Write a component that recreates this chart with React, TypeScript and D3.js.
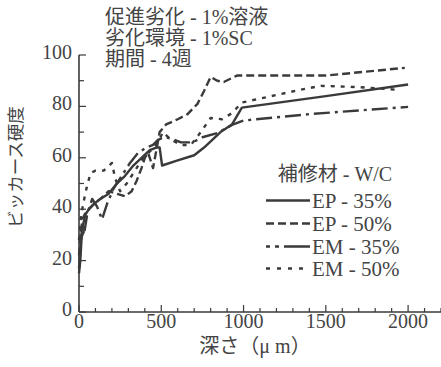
import React from "react";
import * as d3 from "d3";

const titleLines = ["促進劣化 - 1%溶液", "劣化環境 - 1%SC", "期間 - 4週"];
const yLabel = "ビッカース硬度";
const xLabel = "深さ（μ m）";
const legendTitle = "補修材 - W/C";

const xTicks = [0, 500, 1000, 1500, 2000];
const yTicks = [0, 20, 40, 60, 80, 100];

const seriesNames = ["EP - 35%", "EP - 50%", "EM - 35%", "EM - 50%"];

const ep35Depth = [0, 8, 15, 25, 40, 60, 90, 130, 180, 230, 280, 330, 380, 430, 470, 490, 505, 600, 700, 760, 810, 860, 930, 990, 1500, 2000];
const ep35Hard = [15, 20, 28, 34, 38, 40, 42, 44, 46, 50, 53, 57, 60, 63, 64, 64, 57, 59, 61, 64, 67, 70, 73, 79.5, 84, 88.5];

const ep50Depth = [0, 10, 20, 35, 60, 90, 130, 180, 230, 280, 320, 350, 380, 400, 420, 450, 470, 490, 530, 600, 660, 720, 760, 800, 840, 880, 960, 1500, 1980];
const ep50Hard = [22, 30, 36, 38, 40, 42, 44, 47, 46, 45, 47, 51, 56, 60, 62, 56, 63, 70, 73, 75, 77, 81, 86, 91.5, 90, 89.5, 92, 92, 95];

const em35Depth = [0, 10, 20, 30, 50, 80, 110, 140, 170, 210, 260, 310, 360, 410, 450, 480, 520, 560, 620, 690, 750, 840, 930, 1000, 1400, 2000];
const em35Hard = [17, 26, 34, 30, 38, 44, 41, 36, 42, 48, 53, 58, 62, 64, 65, 67, 68, 67.5, 66, 66, 68, 69.6, 72.8, 74.5, 77, 79.8];

const em50Depth = [0, 10, 25, 45, 70, 100, 150, 200, 220, 250, 290, 340, 390, 440, 480, 510, 560, 620, 680, 740, 800, 870, 930, 990, 1340, 1470, 1700, 1950];
const em50Hard = [28, 36, 42, 48, 54, 55, 55, 58, 52, 47, 50, 55, 60, 63, 66, 70, 67, 65, 65, 70, 75.5, 75, 77.4, 81.5, 86.4, 88, 87.5, 86.4];

const INK = "#3a3a3a";
const TEXT = "#444";
const FONT = "'Liberation Serif', 'Noto Sans CJK JP', serif";

export default function App() {
  const x = d3.scaleLinear().domain([0, 2200]).range([79, 441]);
  const y = d3.scaleLinear().domain([0, 100]).range([312, 55]);

  const series = [
    { depth: ep35Depth, hard: ep35Hard, dash: "none", legendDash: "none" },
    { depth: ep50Depth, hard: ep50Hard, dash: "8,4", legendDash: "8,4" },
    { depth: em35Depth, hard: em35Hard, dash: "16,5,3,5", legendDash: "4,5,4,5,40" },
    { depth: em50Depth, hard: em50Hard, dash: "4,6", legendDash: "4,7" },
  ];

  const line = d3
    .line<[number, number]>()
    .x((d) => x(d[0]))
    .y((d) => y(d[1]));

  const xMinor = d3.range(0, 2201, 100);
  const yMinor = d3.range(0, 101, 10);

  const legendBase = [207.5, 230.5, 253.5, 275.5];

  return (
    <svg
      width={441}
      height={367}
      style={{ position: "absolute", left: 0, top: 0, background: "#fff" }}
      fontFamily={FONT}
    >
      <rect x={0} y={0} width={441} height={367} fill="#fff" />
      {/* title */}
      {titleLines.map((t, i) => (
        <text key={t} x={105} y={24 + i * 21} fontSize={20} fill={TEXT}>
          {t}
        </text>
      ))}

      {/* axes */}
      <line x1={x(0)} x2={x(0)} y1={y(0)} y2={y(100)} stroke={INK} strokeWidth={1.6} />
      <line x1={x(0)} x2={441} y1={y(0)} y2={y(0)} stroke={INK} strokeWidth={1.6} />

      {yMinor.map((v) => (
        <line
          key={"yt" + v}
          x1={x(0)}
          x2={x(0) + (v % 20 === 0 ? 7 : 5)}
          y1={y(v)}
          y2={y(v)}
          stroke={INK}
          strokeWidth={1.2}
        />
      ))}
      {xMinor.map((v) => (
        <line
          key={"xt" + v}
          x1={x(v)}
          x2={x(v)}
          y1={y(0)}
          y2={y(0) - (v % 500 === 0 ? 7 : 4)}
          stroke={INK}
          strokeWidth={1.2}
        />
      ))}

      {yTicks.map((v) => (
        <text
          key={"yl" + v}
          x={72}
          y={y(v) + 4}
          fontSize={20}
          textAnchor="end"
          fill={TEXT}
        >
          {v}
        </text>
      ))}
      {xTicks.map((v) => (
        <text
          key={"xl" + v}
          x={x(v)}
          y={328}
          fontSize={20}
          textAnchor="middle"
          fill={TEXT}
        >
          {v}
        </text>
      ))}

      <text x={255} y={353} fontSize={20} textAnchor="middle" fill={TEXT}>
        {xLabel}
      </text>
      <text
        transform="translate(22,167) rotate(-90)"
        fontSize={17.5}
        textAnchor="middle"
        fill={TEXT}
      >
        {yLabel}
      </text>

      {/* series */}
      {series.map((s, i) => (
        <path
          key={"s" + i}
          d={line(s.depth.map((d, j) => [d, s.hard[j]] as [number, number])) || ""}
          fill="none"
          stroke={INK}
          strokeWidth={2.4}
          strokeDasharray={s.dash}
          strokeLinejoin="round"
        />
      ))}

      {/* legend */}
      <text x={335} y={181} fontSize={20} textAnchor="middle" fill={TEXT}>
        {legendTitle}
      </text>
      {seriesNames.map((n, i) => (
        <g key={n}>
          <line
            x1={266}
            x2={310}
            y1={legendBase[i] - 7}
            y2={legendBase[i] - 7}
            stroke={INK}
            strokeWidth={2.4}
            strokeDasharray={series[i].legendDash}
          />
          <text x={312} y={legendBase[i]} fontSize={21} fill={TEXT}>
            {n}
          </text>
        </g>
      ))}
    </svg>
  );
}
